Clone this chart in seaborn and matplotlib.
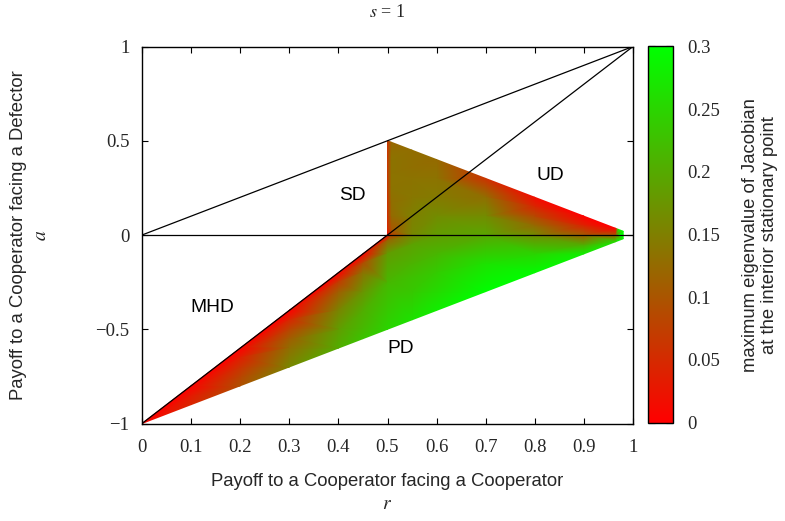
import matplotlib
matplotlib.use("Agg")
import matplotlib.pyplot as plt
import matplotlib.tri as mtri
import numpy as np
import seaborn as sns

# Maximum eigenvalue of the Jacobian at the interior stationary point (s = 1),
# sampled column by column.  Left part: r < 0.5, between a = r - 1 and a = 2r - 1.
left_cols_r = [0.0, 0.1, 0.2, 0.3, 0.4, 0.45, 0.5]
left_cols_a = [
    [-1.0],
    [-0.8, -0.85, -0.9],
    [-0.6, -0.65, -0.7, -0.75, -0.8],
    [-0.4, -0.45, -0.5, -0.55, -0.6, -0.7],
    [-0.2, -0.25, -0.3, -0.4, -0.5, -0.6],
    [-0.1, -0.15, -0.2, -0.3, -0.4, -0.55],
    [0.0, -0.03, -0.1, -0.25, -0.5],
]
left_cols_v = [
    [0.0],
    [0.0, 0.03, 0.045],
    [0.0, 0.035, 0.06, 0.08, 0.095],
    [0.0, 0.045, 0.08, 0.11, 0.13, 0.16],
    [0.0, 0.07, 0.11, 0.155, 0.185, 0.205],
    [0.0, 0.09, 0.135, 0.175, 0.205, 0.23],
    [0.0, 0.12, 0.185, 0.215, 0.25],
]

# Right part: r >= 0.5, between a = r - 1 and a = 1 - r.
right_cols_r = [0.5, 0.507, 0.55, 0.6, 0.7, 0.8, 0.9, 0.965, 0.97, 0.98]
right_cols_a = [
    [-0.5, -0.25, -0.1, -0.03, 0.0, 0.03, 0.1, 0.175, 0.25, 0.325, 0.4, 0.45, 0.5],
    [0.0, 0.03, 0.1, 0.175, 0.25, 0.325, 0.4, 0.45, 0.493],
    [-0.45, -0.3, -0.15, -0.05, 0.0, 0.1, 0.2, 0.3, 0.45],
    [-0.4, -0.2, -0.1, 0.0, 0.1, 0.2, 0.3, 0.4],
    [-0.3, -0.15, 0.0, 0.1, 0.2, 0.3],
    [-0.2, -0.1, 0.0, 0.05, 0.1, 0.15, 0.2],
    [-0.1, -0.05, 0.0, 0.05, 0.1],
    [-0.035, 0.0, 0.035],
    [-0.03, 0.0, 0.03],
    [-0.02, 0.0, 0.02],
]
right_cols_v = [
    [0.25, 0.215, 0.185, 0.12, 0.0, 0.04, 0.05, 0.055, 0.06, 0.06, 0.06, 0.06, 0.06],
    [0.08, 0.1, 0.125, 0.13, 0.135, 0.135, 0.135, 0.13, 0.12],
    [0.265, 0.235, 0.21, 0.19, 0.16, 0.15, 0.14, 0.135, 0.13],
    [0.28, 0.24, 0.215, 0.185, 0.165, 0.145, 0.135, 0.125],
    [0.3, 0.265, 0.195, 0.165, 0.13, 0.06],
    [0.295, 0.25, 0.165, 0.125, 0.085, 0.045, 0.015],
    [0.28, 0.2, 0.11, 0.04, 0.0],
    [0.26, 0.1, 0.0],
    [0.3, 0.3, 0.3],
    [0.3, 0.3, 0.3],
]

# Boundary lines between the game classes
line_r = [0.0, 1.0]
line_zero = [0.0, 0.0]      # a = 0
line_diag = [0.0, 1.0]      # a = r
line_steep = [-1.0, 1.0]    # a = 2r - 1

region_names = ["SD", "UD", "MHD", "PD"]
region_r = [0.428, 0.831, 0.143, 0.527]
region_a = [0.207, 0.313, -0.387, -0.600]

x_ticks = [0.0, 0.1, 0.2, 0.3, 0.4, 0.5, 0.6, 0.7, 0.8, 0.9, 1.0]
x_labels = ["0", "0.1", "0.2", "0.3", "0.4", "0.5", "0.6", "0.7", "0.8", "0.9", "1"]
y_ticks = [-1.0, -0.5, 0.0, 0.5, 1.0]
y_labels = ["\u22121", "\u22120.5", "0", "0.5", "1"]
cbar_ticks = [0.0, 0.05, 0.1, 0.15, 0.2, 0.25, 0.3]
cbar_labels = ["0", "0.05", "0.1", "0.15", "0.2", "0.25", "0.3"]
v_min, v_max = 0.0, 0.3


def flatten(cols_r, cols_a, cols_v):
    rr, aa, vv = [], [], []
    for r, a_list, v_list in zip(cols_r, cols_a, cols_v):
        for a, v in zip(a_list, v_list):
            rr.append(r)
            aa.append(a)
            vv.append(v)
    return np.array(rr), np.array(aa), np.array(vv)


sns.set_theme(style="ticks")
plt.rcParams["font.family"] = ["Liberation Sans", "DejaVu Sans"]
plt.rcParams["mathtext.fontset"] = "stix"
plt.rcParams["axes.unicode_minus"] = True

SANS_SIZE = 13.3

W, H = 785, 521
fig = plt.figure(figsize=(W / 100, H / 100), dpi=100)
ax = fig.add_axes([142 / W, 1 - 423.5 / H, 491 / W, 377 / H])
cax = fig.add_axes([648 / W, 1 - 422.5 / H, 25 / W, 376 / H])

cmap = sns.blend_palette(["#ff0000", "#00ff00"], as_cmap=True)
norm = plt.Normalize(v_min, v_max)

for cols in [(left_cols_r, left_cols_a, left_cols_v),
             (right_cols_r, right_cols_a, right_cols_v)]:
    rr, aa, vv = flatten(*cols)
    tri = mtri.Triangulation(rr, aa)
    ax.tripcolor(tri, vv, shading="gouraud", cmap=cmap, norm=norm, zorder=1)

for ys in [line_zero, line_diag, line_steep]:
    sns.lineplot(x=line_r, y=ys, ax=ax, color="black", linewidth=0.9,
                 sort=False, estimator=None, zorder=3)

for name, r, a in zip(region_names, region_r, region_a):
    ax.text(r, a, name, ha="center", va="center", fontsize=SANS_SIZE + 0.5,
            color="black")

ax.set_xlim(0, 1)
ax.set_ylim(-1, 1)
serif = ["Liberation Serif", "DejaVu Serif"]
ax.set_xticks(x_ticks)
ax.set_xticklabels(x_labels, fontfamily=serif, fontsize=13.5)
ax.set_yticks(y_ticks)
ax.set_yticklabels(y_labels, fontfamily=serif, fontsize=13.5)
ax.tick_params(axis="both", direction="in", top=True, right=True,
               length=4, width=0.8, color="black")
ax.tick_params(axis="x", pad=11)
ax.tick_params(axis="y", pad=9)
for sp in ax.spines.values():
    sp.set_visible(True)
    sp.set_color("black")
    sp.set_linewidth(1.0)

ax.text(0.5, -0.155, "Payoff to a Cooperator facing a Cooperator",
        transform=ax.transAxes, ha="center", va="center", fontsize=SANS_SIZE)
ax.text(0.5, -0.216, "$r$", transform=ax.transAxes, ha="center", va="center",
        fontsize=14)
ax.text(-0.2525, 0.5, "Payoff to a Cooperator facing a Defector",
        transform=ax.transAxes, ha="center", va="center", rotation=90,
        fontsize=SANS_SIZE)
ax.text(-0.2037, 0.5, "$a$", transform=ax.transAxes, ha="center", va="center",
        fontsize=14, rotation=90)
ax.text(0.5, 1.0915, "$s$ = 1", transform=ax.transAxes, ha="center",
        va="center", fontsize=13, fontfamily=serif)

sm = matplotlib.cm.ScalarMappable(norm=norm, cmap=cmap)
cb = fig.colorbar(sm, cax=cax)
cb.set_ticks(cbar_ticks)
cb.set_ticklabels(cbar_labels)
for lab in cax.get_yticklabels():
    lab.set_fontfamily(serif)
    lab.set_fontsize(13.5)
cax.tick_params(direction="in", left=True, right=True, length=5, width=0.8,
                pad=10, color="black")
cb.outline.set_edgecolor("black")
cb.outline.set_linewidth(1.0)

fig.text(760 / W, 1 - 235 / H,
         "maximum eigenvalue of Jacobian\nat the interior stationary point",
         rotation=90, ha="center", va="center", multialignment="center",
         fontsize=SANS_SIZE, linespacing=1.2)

fig.savefig("out.png", dpi=100)
